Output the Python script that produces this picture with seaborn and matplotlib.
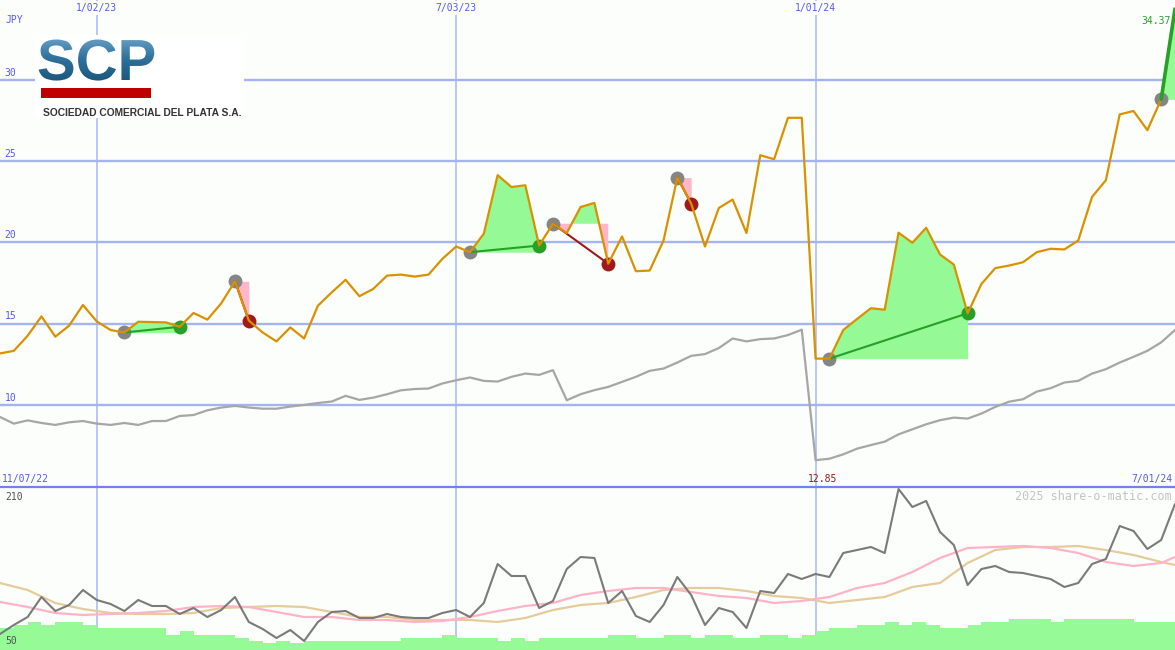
import matplotlib
matplotlib.use('Agg')
import matplotlib.pyplot as plt
from matplotlib.patches import Rectangle, PathPatch
from matplotlib.lines import Line2D
from matplotlib.textpath import TextPath
from matplotlib.font_manager import FontProperties
from matplotlib.colors import LinearSegmentedColormap
import matplotlib.transforms as mtransforms
import seaborn as sns
import numpy as np

W, H = 1175, 650

# weekly closes (JPY), week 0 = left edge of the chart
price = [13.17, 13.33, 14.26, 15.45, 14.20, 14.88, 16.15, 15.14, 14.61, 14.46,
         15.12, 15.10, 15.08, 14.81, 15.66, 15.25, 16.25, 17.61, 15.19, 14.46,
         13.91, 14.77, 14.09, 16.11, 16.93, 17.70, 16.69, 17.14, 17.96, 18.02,
         17.90, 18.02, 18.99, 19.75, 19.40, 20.54, 24.14, 23.41, 23.52, 19.81,
         21.15, 20.58, 22.18, 22.43, 18.69, 20.37, 18.23, 18.27, 20.12, 23.99,
         22.39, 19.75, 22.12, 22.64, 20.58, 25.37, 25.12, 27.67, 27.67, 12.85,
         12.85, 14.61, 15.29, 15.95, 15.86, 20.60, 19.98, 20.90, 19.26, 18.64,
         15.64, 17.45, 18.42, 18.58, 18.78, 19.40, 19.61, 19.57, 20.12, 22.80,
         23.83, 27.88, 28.09, 26.91, 28.81, 34.37]

# comparison line (grey, main panel)
bench = [9.26, 8.85, 9.05, 8.89, 8.77, 8.93, 9.01, 8.85, 8.77, 8.89,
         8.77, 9.01, 9.01, 9.32, 9.38, 9.67, 9.84, 9.94, 9.84, 9.77,
         9.77, 9.90, 10.00, 10.12, 10.21, 10.56, 10.31, 10.45, 10.66, 10.90,
         10.98, 11.01, 11.32, 11.52, 11.69, 11.48, 11.44, 11.73, 11.93, 11.85,
         12.14, 10.29, 10.66, 10.91, 11.11, 11.42, 11.73, 12.10, 12.24, 12.61,
         13.02, 13.13, 13.50, 14.09, 13.91, 14.05, 14.09, 14.30, 14.63, 6.60,
         6.69, 6.96, 7.31, 7.53, 7.74, 8.19, 8.50, 8.81, 9.06, 9.22,
         9.16, 9.47, 9.88, 10.20, 10.35, 10.82, 11.03, 11.38, 11.48, 11.93,
         12.20, 12.61, 12.96, 13.33, 13.85, 14.61]

# lower panel indicator (grey)
osc = [66, 75, 83, 103, 89, 95, 110, 100, 96, 89,
       100, 94, 94, 86, 92, 83, 90, 103, 78, 71,
       62, 70, 59, 78, 88, 89, 82, 82, 86, 83,
       82, 82, 87, 90, 83, 97, 136, 124, 124, 92,
       99, 131, 143, 142, 97, 109, 84, 78, 95, 123,
       105, 75, 92, 88, 72, 109, 107, 126, 121, 126,
       123, 147, 150, 153, 147, 211, 193, 199, 168, 155,
       115, 131, 134, 128, 127, 124, 121, 113, 117, 136,
       141, 174, 169, 151, 160, 196]

# volume steps (green)
vol = [72, 75, 78, 75, 78, 78, 75, 72, 72, 72,
       72, 72, 65, 69, 65, 65, 65, 62, 59, 57,
       59, 57, 59, 59, 59, 59, 59, 59, 59, 62,
       62, 62, 65, 62, 62, 62, 59, 62, 59, 62,
       62, 62, 62, 62, 65, 65, 62, 62, 65, 65,
       62, 65, 65, 62, 62, 65, 65, 62, 65, 69,
       72, 72, 75, 75, 78, 75, 78, 75, 72, 72,
       75, 78, 78, 81, 81, 81, 78, 81, 81, 81,
       81, 81, 78, 78, 78, 78]

# moving averages of the indicator, read every second week
ma_x = list(range(0, 85, 2)) + [85]
ma_pink = [98, 93, 87, 85, 86, 87, 89, 93, 94, 93,
           88, 83, 83, 80, 80, 78, 79, 83, 89, 94,
           97, 105, 109, 112, 112, 108, 104, 102, 97, 99,
           103, 112, 117, 128, 142, 152, 153, 154, 152, 147,
           138, 134, 137, 143]
ma_tan = [117, 110, 97, 91, 87, 86, 86, 87, 92, 93,
          94, 93, 88, 83, 83, 80, 80, 80, 78, 82,
          90, 95, 97, 103, 110, 112, 112, 109, 104, 102,
          97, 100, 103, 113, 117, 137, 150, 153, 153, 154,
          150, 145, 138, 135]

# (buy week, sell week); the last one is still open
trades = [(9, 13), (17, 18), (34, 39), (40, 44), (49, 50), (60, 70), (84, 85)]

date_idx = [7, 33, 59]
date_lab = ['1/02/23', '7/03/23', '1/01/24']
left_lab, right_lab = '11/07/22', '7/01/24'
y_levels = [10, 15, 20, 25, 30]

BG = '#fbfefb'
BLUE_TXT = '#5858f0'
GRID = '#a4b4f2'
VGRID = '#aebcf8'
GAIN = '#26a026'
LOSS = '#a01a1a'
GAIN_FILL = '#95fa95'
LOSS_FILL = '#ffb6c8'
MONO = 'DejaVu Sans Mono'
FS = 7

sns.set_style('white')
weeks = np.arange(len(price))

fig = plt.figure(figsize=(W / 100, H / 100), dpi=100)
fig.patch.set_facecolor(BG)
ax = fig.add_axes([0, 163 / H, 1, 487 / H])
ax2 = fig.add_axes([0, 0, 1, 163 / H])
for a in (ax, ax2):
    a.set_facecolor(BG)
    for sp in a.spines.values():
        sp.set_visible(False)
    a.set_xticks([])
    a.set_yticks([])
    a.set_xlim(0, 85)
    for d in date_idx:
        a.axvline(d, color=VGRID, lw=1.2, zorder=1)
ax.set_ylim(4.95, 34.92)
ax2.set_ylim(50, 213)

# --- main panel
for lv in y_levels:
    ax.axhline(lv, color=GRID, lw=1.7, zorder=1)
    ax.text(0.004, lv + 0.15, str(lv), transform=ax.get_yaxis_transform(),
            va='bottom', ha='left', color=BLUE_TXT, fontsize=FS, family=MONO)

sns.lineplot(x=weeks, y=bench, ax=ax, color='#a6a6a6', lw=1.6, zorder=3)

for n, (b, s) in enumerate(trades):
    xs = weeks[b:s + 1]
    ys = np.array(price[b:s + 1])
    buy = price[b]
    ax.fill_between(xs, ys, buy, where=ys >= buy, interpolate=True,
                    color=GAIN_FILL, lw=0, zorder=2)
    ax.fill_between(xs, ys, buy, where=ys < buy, interpolate=True,
                    color=LOSS_FILL, lw=0, zorder=2)
    win = price[s] > buy
    is_open = n == len(trades) - 1
    ax.plot([b, s], [buy, price[s]], color=GAIN if win else LOSS,
            lw=2.6 if is_open else 1.5, zorder=5 if is_open else 3.7)
    ax.scatter([b], [buy], s=100, color='#858585', lw=0, zorder=3.5)
    if not is_open:
        ax.scatter([s], [price[s]], s=100, color=GAIN if win else LOSS,
                   lw=0, zorder=3.5)

sns.lineplot(x=weeks, y=price, ax=ax, color='#da9100', lw=1.6, zorder=4)

# date labels along the top (background box masks the grid line)
for d, lab in zip(date_idx, date_lab):
    ax.text(d, 1 - 3 / 487, lab, transform=ax.get_xaxis_transform(),
            ha='center', va='top', color=BLUE_TXT, fontsize=FS, family=MONO,
            bbox=dict(boxstyle='square,pad=0.25', fc=BG, ec='none'), zorder=6)

fig.text(5 / W, 1 - 20 / H, 'JPY', ha='left', va='center', color=BLUE_TXT,
         fontsize=FS, family=MONO)
imax = int(np.argmax(price))
imin = int(np.argmin(price))
fig.text(1171 / W, 1 - 21 / H, f'{price[imax]:.2f}', ha='right', va='center',
         color=GAIN, fontsize=FS, family=MONO)
fig.text(2 / W, 1 - 479 / H, left_lab, ha='left', va='center', color=BLUE_TXT,
         fontsize=FS, family=MONO)
fig.text(1172 / W, 1 - 479 / H, right_lab, ha='right', va='center', color=BLUE_TXT,
         fontsize=FS, family=MONO)
ax.text(imin + 0.5, 8 / 487, f'{price[imin]:.2f}', transform=ax.get_xaxis_transform(),
        ha='center', va='center', color=LOSS, fontsize=FS, family=MONO)

# --- lower panel
ax2.bar(weeks, vol, width=1, align='edge', color='#96fa96', lw=0, zorder=2)
sns.lineplot(x=ma_x, y=ma_tan, ax=ax2, color='#e6cb9b', lw=1.6, zorder=3)
sns.lineplot(x=ma_x, y=ma_pink, ax=ax2, color='#ffb3c8', lw=1.6, zorder=3)
sns.lineplot(x=weeks, y=osc, ax=ax2, color='#7a7a7a', lw=1.5, zorder=4)

fig.text(5 / W, 1 - 497 / H, '210', ha='left', va='center', color='#505050',
         fontsize=FS, family=MONO)
fig.text(5 / W, 1 - 641 / H, '50', ha='left', va='center', color='#505050',
         fontsize=FS, family=MONO)
fig.text(1172 / W, 1 - 496 / H, '2025 share-o-matic.com', ha='right', va='center',
         color='#c4c4c4', fontsize=8.5, family=MONO)

fig.add_artist(Line2D([0, 1], [163 / H, 163 / H], transform=fig.transFigure,
                      color='#7282ea', lw=1.6))

# --- logo box
lax = fig.add_axes([35 / W, 1 - 118 / H, 209 / W, 83 / H])
lax.set_facecolor('white')
for sp in lax.spines.values():
    sp.set_visible(False)
lax.set_xticks([])
lax.set_yticks([])
tp = TextPath((0, 0), 'SCP', size=58,
              prop=FontProperties(family='Liberation Sans', weight='bold'))
tr = mtransforms.Affine2D().scale(1, -1).translate(37, 80) + lax.transData
logo = PathPatch(tp, transform=tr, fc='none', ec='none')
lax.add_patch(logo)
grad = np.linspace(0, 1, 64).reshape(-1, 1)
cmap = LinearSegmentedColormap.from_list('scp', ['#6fa6cc', '#2f729c', '#1b577c'])
im = lax.imshow(grad, extent=(35, 170, 82, 34), origin='upper', cmap=cmap,
                aspect='auto', interpolation='bilinear')
im.set_clip_path(logo)
lax.add_patch(Rectangle((41, 88), 110, 10, color='#c00000', lw=0))
lax.text(43, 116.5, 'SOCIEDAD COMERCIAL DEL PLATA S.A.', fontsize=7.4,
         fontweight='bold', color='#333333', family='Liberation Sans', va='baseline')
lax.set_xlim(35, 244)
lax.set_ylim(118, 35)

fig.savefig('out.png', dpi=100, facecolor=BG)
